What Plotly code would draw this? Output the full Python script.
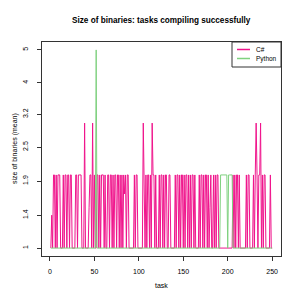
import numpy as np
import plotly.graph_objects as go

# ---- data ----
tasks = list(range(1, 251))

csharp = [
    1, 1.4, 1, 2, 2, 1, 2, 1, 2, 2,
    2, 1, 1, 1, 2, 1, 2, 2, 1, 2,
    2, 1, 2, 2, 1, 1, 1, 1, 2, 2,
    1, 2, 2, 2, 2, 1, 1, 1, 3, 1,
    1, 1, 1, 1.5, 2, 2, 1, 3, 1, 2,
    1, 1, 2, 2, 1, 2, 1, 2, 2, 2,
    1, 2, 1, 1, 2, 2, 1, 2, 2, 1,
    2, 1, 2, 2, 1, 2, 2, 1, 2, 1,
    2, 1, 2, 1.7, 2, 1, 2, 2, 1, 1,
    1, 1, 1, 1, 2, 1, 2, 2, 1, 1,
    1, 1, 1, 1, 3, 2, 1, 2, 1, 2,
    2, 1, 2, 1, 3, 2, 2, 1, 2, 1,
    1, 1, 2, 1, 2, 2, 1, 2, 1, 2,
    2, 1, 1, 2, 2, 1, 1, 1, 1, 1,
    2, 1, 2, 2, 1, 2, 1, 2, 2, 1,
    2, 1, 2, 2, 1, 2, 1, 2, 1, 2,
    2, 1, 2, 1, 1, 1, 1, 2, 1, 2,
    2, 1, 2, 1, 2, 2, 1, 2, 1, 1.5,
    2, 1, 1, 2, 1, 2, 1, 2, 2, 1,
    1, 1, 1, 1, 1, 1, 1, 1, 1, 1,
    1, 1, 1, 1, 1, 2, 1, 2, 1, 2,
    2, 1, 2, 1, 1, 1, 1, 1, 1, 1,
    2, 1, 2, 2, 1, 1, 1, 1, 2, 1,
    2, 3, 2, 1, 2, 2, 3, 1, 2, 1,
    2, 2, 1, 1, 1, 1, 1, 2, 1, 1,
]

python = [
    1, 1, 1, 1, 1, 1, 1, 1, 1, 1,
    1, 1, 1, 1, 1, 1, 1, 1, 1, 1,
    1, 1, 1, 1, 1, 1, 1, 1, 1, 1,
    1, 1, 1, 1, 1, 1, 1, 1, 1, 1,
    1, 1, 1, 1, 1, 1, 1, 1, 1, 1,
    1, 5, 1, 1, 1, 1, 1, 1, 1, 1,
    1, 1, 1, 1, 1, 1, 1, 1, 1, 1,
    1, 1, 1, 1, 1, 1, 1, 1, 1, 1,
    1, 1, 1, 1, 1, 1, 1, 1, 1, 1,
    1, 1, 1, 1, 1, 1, 1, 1, 1, 1,
    1, 1, 1, 1, 1, 1, 1, 1, 1, 1,
    1, 1, 1, 1, 1, 1, 1, 1, 1, 1,
    1, 1, 1, 1, 1, 1, 1, 1, 1, 1,
    1, 1, 1, 1, 1, 1, 1, 1, 1, 1,
    1, 1, 1, 1, 1, 1, 1, 1, 1, 1,
    1, 1, 1, 1, 1, 1, 1, 1, 1, 1,
    1, 1, 1, 1, 1, 1, 1, 1, 1, 1,
    1, 1, 1, 1, 1, 1, 1, 1, 1, 1,
    1, 1, 1, 1, 1, 1, 1, 1, 1, 1,
    1, 2, 2, 2, 2, 2, 2, 2, 2, 1,
    2, 2, 2, 2, 2, 1, 1, 1, 1, 1,
    1, 1, 1, 1, 1, 1, 1, 1, 1, 1,
    1, 1, 1, 1, 1, 1, 1, 1, 1, 1,
    1, 1, 1, 1, 1, 1, 1, 1, 1, 1,
    1, 1, 1, 1, 1, 1, 1, 1, 1, 1,
]

x_ticks = [0, 50, 100, 150, 200, 250]
y_tick_labels = [1, 1.4, 1.9, 2.5, 3.2, 4, 5]

series_names = ["C#", "Python"]
series_colors = ["#F0148C", "#7FD17F"]

# ---- transform: log(size + 1) ----
def tr(v):
    return np.log(np.asarray(v, dtype=float) + 1.0)

ycs = tr(csharp)
ypy = tr(python)

allv = np.concatenate([ycs, ypy])
lo, hi = allv.min(), allv.max()
pad = 0.04 * (hi - lo)
xlo, xhi = min(tasks), max(tasks)
xpad = 0.04 * (xhi - xlo)

font = "Liberation Sans, Arial, Helvetica, sans-serif"
fs = 7

fig = go.Figure()
fig.add_trace(go.Scatter(x=tasks, y=ycs, mode="lines", name=series_names[0],
                         line=dict(color=series_colors[0], width=1),
                         showlegend=False))
fig.add_trace(go.Scatter(x=tasks, y=ypy, mode="lines", name=series_names[1],
                         line=dict(color=series_colors[1], width=1),
                         showlegend=False))

W, H = 291, 291
L, R, T, B = 34, 18, 34, 43
pw, ph = W - L - R, H - T - B

def px(xp):
    return (xp - L) / pw

def py(yp):
    return (H - B - yp) / ph

axis_common = dict(showgrid=False, zeroline=False, showline=True, mirror=True,
                   linecolor="#333333", linewidth=1, ticks="outside", ticklen=4,
                   tickcolor="#333333", tickwidth=1,
                   tickfont=dict(family=font, size=fs, color="black"))

fig.update_layout(
    width=W, height=H,
    margin=dict(l=L, r=R, t=T, b=B),
    paper_bgcolor="white", plot_bgcolor="white",
    showlegend=False,
    xaxis=dict(range=[xlo - xpad, xhi + xpad], tickvals=x_ticks,
               ticklabelstandoff=5, **axis_common),
    yaxis=dict(range=[lo - pad, hi + pad], tickvals=list(tr(y_tick_labels)),
               ticktext=[str(v) for v in y_tick_labels], tickangle=-90,
               ticklabelstandoff=6, **axis_common),
)

annotations = [
    dict(text="<b>Size of binaries: tasks compiling successfully</b>",
         x=0.5, y=py(13), xref="paper", yref="paper", showarrow=False,
         xanchor="center", yanchor="middle",
         font=dict(family=font, size=8.2, color="black")),
    dict(text="task", x=0.5, y=py(277), xref="paper", yref="paper",
         showarrow=False, xanchor="center", yanchor="middle",
         font=dict(family=font, size=fs, color="black")),
    dict(text="size of binaries (mean)", x=px(7), y=0.5, xref="paper",
         yref="paper", showarrow=False, textangle=-90, xanchor="center",
         yanchor="middle", font=dict(family=font, size=fs, color="black")),
]

# manual legend
shapes = [dict(type="rect", xref="paper", yref="paper",
               x0=px(224), x1=1, y0=py(59), y1=1,
               line=dict(color="#333333", width=1), fillcolor="white",
               layer="above")]
for i, (nm, col) in enumerate(zip(series_names, series_colors)):
    yy = py(41.5 + 9 * i)
    shapes.append(dict(type="line", xref="paper", yref="paper",
                       x0=px(229), x1=px(242), y0=yy, y1=yy,
                       line=dict(color=col, width=1.5), layer="above"))
    annotations.append(dict(text=nm, x=px(246.5), y=yy, xref="paper",
                            yref="paper", showarrow=False, xanchor="left",
                            yanchor="middle", borderpad=0,
                            font=dict(family=font, size=6.5, color="black")))

fig.update_layout(annotations=annotations, shapes=shapes)
fig.write_html("out.html")
